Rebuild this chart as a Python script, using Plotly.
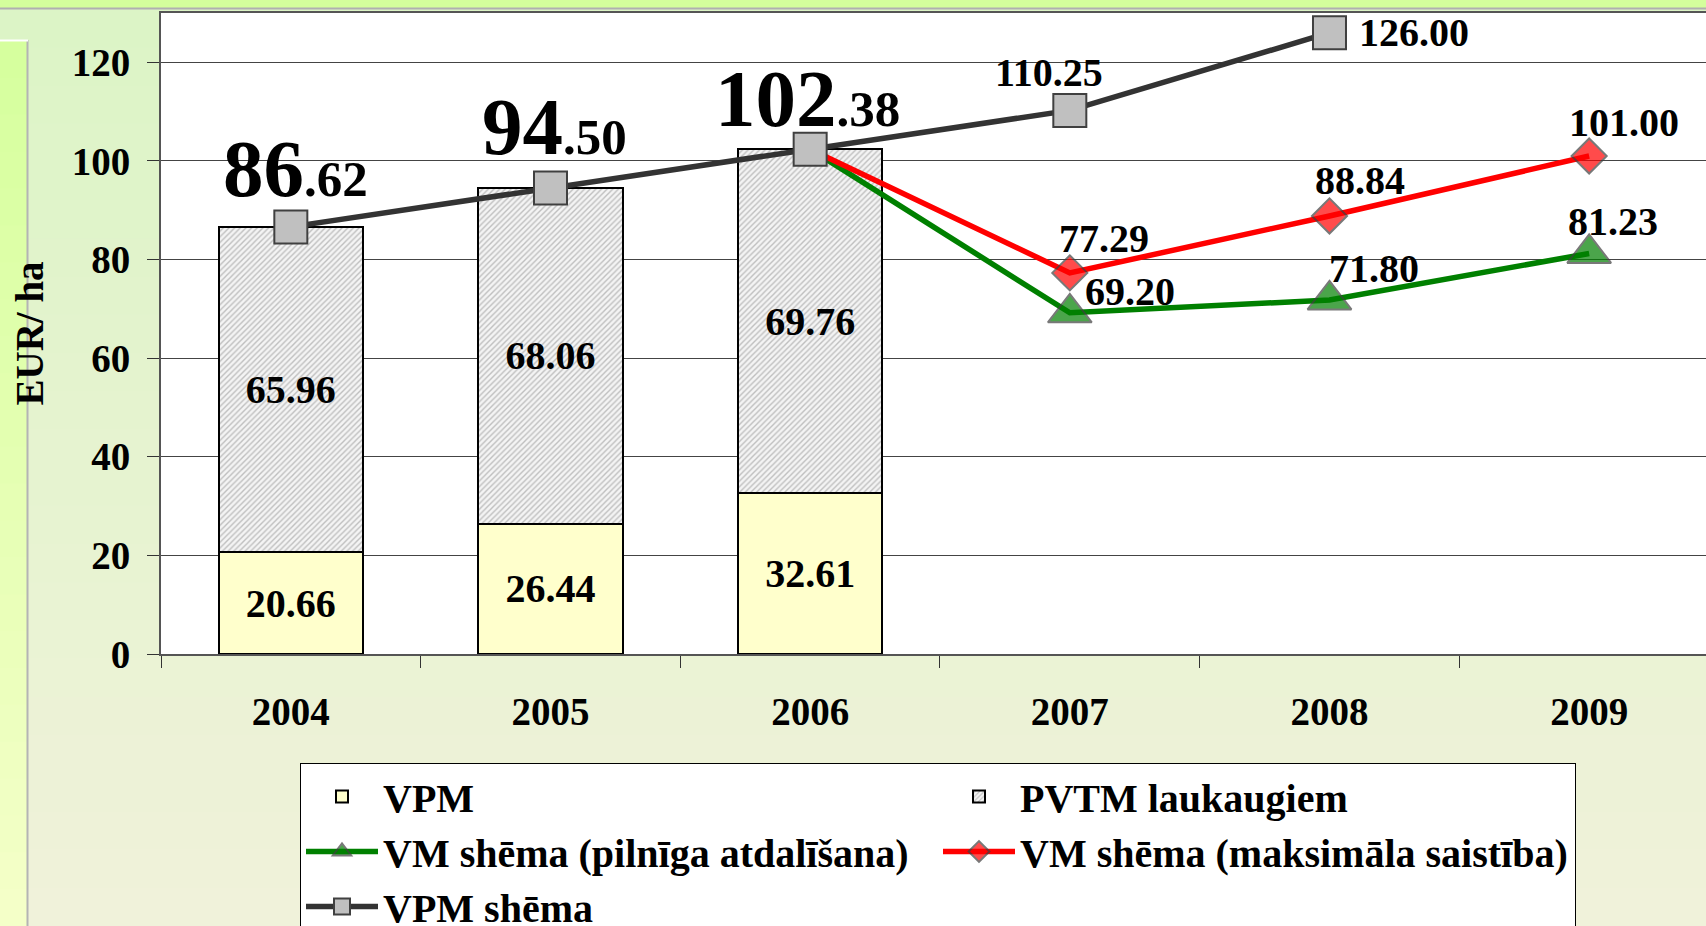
import plotly.graph_objects as go

# ---------------- data ----------------
years = ["2004", "2005", "2006", "2007", "2008", "2009"]
bar_years = ["2004", "2005", "2006"]
vpm = [20.66, 26.44, 32.61]
pvtm = [65.96, 68.06, 69.76]
vpm_scheme_years = ["2004", "2005", "2006", "2007", "2008"]
vpm_scheme = [86.62, 94.50, 102.38, 110.25, 126.00]
vm_years = ["2006", "2007", "2008", "2009"]
vm_full = [102.38, 69.20, 71.80, 81.23]
vm_max = [102.38, 77.29, 88.84, 101.00]
y_ticks = [0, 20, 40, 60, 80, 100, 120]

names = ["VPM", "PVTM laukaugiem", "VM shēma (pilnīga atdalīšana)",
         "VM shēma (maksimāla saistība)", "VPM shēma"]

# ---------------- layout geometry ----------------
W, H = 1706, 926
L, R, T, B = 161, 0, 13, 272
PW, PH = W - L - R, H - T - B
FAM = "Liberation Serif"


def px2x(px):
    return (px - L) / PW


def py2y(py):
    return (H - B - py) / PH


def font(size, color="black"):
    return dict(family=FAM, size=size, color=color, weight="bold")


fig = go.Figure()

fig.add_trace(go.Bar(
    x=bar_years, y=vpm, name=names[0], width=0.557,
    marker=dict(color="#ffffcc", line=dict(color="black", width=2)),
    texttemplate="%{y:.2f}", textposition="inside", insidetextanchor="middle",
    textangle=0, constraintext="none", textfont=font(40), hoverinfo="skip",
))
fig.add_trace(go.Bar(
    x=bar_years, y=pvtm, name=names[1], width=0.557,
    marker=dict(color="#f4f4f4", line=dict(color="black", width=2),
                pattern=dict(shape="/", size=4, solidity=0.35,
                             fgcolor="#8a8a8a", bgcolor="#f4f4f4")),
    texttemplate="%{y:.2f}", textposition="inside", insidetextanchor="middle",
    textangle=0, constraintext="none", textfont=font(40), hoverinfo="skip",
))
fig.add_trace(go.Scatter(
    x=vm_years, y=vm_full, name=names[2], mode="lines+markers",
    line=dict(color="#008000", width=5.5),
    marker=dict(symbol="triangle-up", size=[0, 38, 38, 38], color="#008000",
                line=dict(color="#404040", width=2)),
    hoverinfo="skip",
))
fig.add_trace(go.Scatter(
    x=vm_years, y=vm_max, name=names[3], mode="lines+markers",
    line=dict(color="#ff0000", width=5.5),
    marker=dict(symbol="diamond", size=[0, 27, 27, 27], color="#ff0000",
                line=dict(color="#404040", width=2)),
    hoverinfo="skip",
))
fig.add_trace(go.Scatter(
    x=vpm_scheme_years, y=vpm_scheme, name=names[4], mode="lines+markers",
    line=dict(color="#333333", width=5.5),
    marker=dict(symbol="square", size=33, color="#c0c0c0",
                line=dict(color="#404040", width=2)),
    hoverinfo="skip",
))

# ---------------- value labels on lines ----------------
annotations = []
gray_off = [(5, 58), (4, 61), (-3, 50), (-21, 38), (85, 0)]
for i, (xv, yv) in enumerate(zip(vpm_scheme_years, vpm_scheme)):
    s = f"{yv:.2f}"
    if i < 3:
        whole, frac = s.split(".")
        txt = f'<span style="font-size:81px">{whole}</span>.{frac}'
        fsize = 51
    else:
        txt = s
        fsize = 40
    dx, dy = gray_off[i]
    annotations.append(dict(x=years.index(xv), y=yv, xref="x", yref="y",
                            text=txt, showarrow=False, font=font(fsize),
                            xanchor="center", yanchor="middle",
                            xshift=dx, yshift=dy))

red_off = [(34, 34), (31, 35), (35, 33)]
for (xv, yv), (dx, dy) in zip(list(zip(vm_years, vm_max))[1:], red_off):
    annotations.append(dict(x=years.index(xv), y=yv, xref="x", yref="y",
                            text=f"{yv:.2f}", showarrow=False, font=font(40),
                            xanchor="center", yanchor="middle",
                            xshift=dx, yshift=dy))
green_off = [(60, 21), (45, 31), (24, 32)]
for (xv, yv), (dx, dy) in zip(list(zip(vm_years, vm_full))[1:], green_off):
    annotations.append(dict(x=years.index(xv), y=yv, xref="x", yref="y",
                            text=f"{yv:.2f}", showarrow=False, font=font(40),
                            xanchor="center", yanchor="middle",
                            xshift=dx, yshift=dy))

# ---------------- background decoration ----------------
def lerp(c1, c2, t):
    a = [int(c1[i:i + 2], 16) for i in (1, 3, 5)]
    b = [int(c2[i:i + 2], 16) for i in (1, 3, 5)]
    return "#%02x%02x%02x" % tuple(round(a[k] + (b[k] - a[k]) * t) for k in range(3))


shapes = []
n = 24
y_start, y_end = 9, H
for k in range(n):
    y0 = y_start + (y_end - y_start) * k / n
    y1 = y_start + (y_end - y_start) * (k + 1) / n + 1
    shapes.append(dict(type="rect", xref="paper", yref="paper", layer="below",
                       x0=px2x(0), x1=px2x(W), y0=py2y(y1), y1=py2y(y0),
                       fillcolor=lerp("#dcf4c6", "#f0f2da", k / (n - 1)),
                       line=dict(width=0)))
# left strip
for k in range(n):
    y0 = 41 + (H - 41) * k / n
    y1 = 41 + (H - 41) * (k + 1) / n + 1
    shapes.append(dict(type="rect", xref="paper", yref="paper", layer="below",
                       x0=px2x(0), x1=px2x(27), y0=py2y(y1), y1=py2y(y0),
                       fillcolor=lerp("#d6ff9e", "#f4ffc8", k / (n - 1)),
                       line=dict(width=0)))
# top band
shapes.append(dict(type="rect", xref="paper", yref="paper", layer="below",
                   x0=px2x(0), x1=px2x(W), y0=py2y(8), y1=py2y(0),
                   fillcolor="#d4ff9c", line=dict(width=0)))
shapes.append(dict(type="line", xref="paper", yref="paper", layer="below",
                   x0=px2x(0), x1=px2x(W), y0=py2y(8.5), y1=py2y(8.5),
                   line=dict(color="#b0b0b0", width=2)))
shapes.append(dict(type="line", xref="paper", yref="paper", layer="below",
                   x0=px2x(27.5), x1=px2x(27.5), y0=py2y(H), y1=py2y(40),
                   line=dict(color="#b4b4b4", width=2)))
shapes.append(dict(type="line", xref="paper", yref="paper", layer="below",
                   x0=px2x(0), x1=px2x(28), y0=py2y(40.5), y1=py2y(40.5),
                   line=dict(color="#ffffff", width=2)))
# white plot area
shapes.append(dict(type="rect", xref="paper", yref="paper", layer="below",
                   x0=0, x1=1, y0=0, y1=1, fillcolor="white",
                   line=dict(width=0)))

fig.update_layout(
    width=W, height=H,
    margin=dict(l=L, r=R, t=T, b=B, autoexpand=False),
    paper_bgcolor="#e8f2d0", plot_bgcolor="rgba(0,0,0,0)",
    barmode="stack", bargap=0.44,
    font=font(40),
    shapes=shapes,
    annotations=annotations,
    showlegend=True,
    legend=dict(orientation="h", x=px2x(300), y=py2y(763),
                xanchor="left", yanchor="top",
                bgcolor="white", bordercolor="black", borderwidth=1,
                font=font(40), entrywidth=550, entrywidthmode="pixels",
                itemwidth=72, traceorder="normal"),
    xaxis=dict(type="category", categoryorder="array", categoryarray=years,
               range=[-0.5, 5.45], tickson="boundaries", ticks="outside",
               ticklen=12, tickwidth=1, tickcolor="#333",
               showline=True, linecolor="#555", linewidth=2, mirror=True,
               tickfont=font(39), ticklabelstandoff=22, showgrid=False,
               fixedrange=True),
    yaxis=dict(range=[0, 130], tickvals=y_ticks, ticks="outside", ticklen=12,
               tickwidth=1, tickcolor="#333",
               showline=True, linecolor="#555", linewidth=2,
               showgrid=True, gridcolor="#444", gridwidth=1,
               tickfont=font(39), ticklabelstandoff=9, zeroline=False,
               title=dict(text="EUR/ ha", font=font(39), standoff=16),
               fixedrange=True),
)

fig.write_html(
    "out.html",
    config={"displayModeBar": False},
    post_script="document.body.style.margin='0';"
                "document.body.style.overflow='hidden';",
)
